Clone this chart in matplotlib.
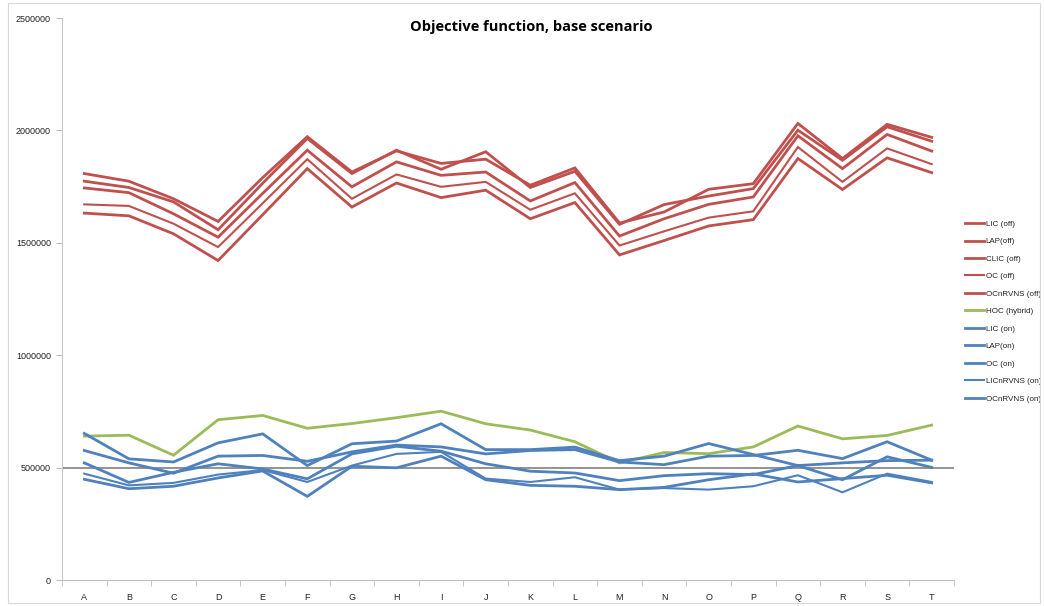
import matplotlib
matplotlib.use("Agg")
import matplotlib.pyplot as plt
from matplotlib.patches import Rectangle
from matplotlib.ticker import FixedLocator, FuncFormatter

categories = list("ABCDEFGHIJKLMNOPQRST")

# Objective values (thousands) per instance
lic_off = [1808, 1774, 1696, 1595, 1790, 1972, 1815, 1909, 1853, 1872, 1756, 1833, 1588, 1637, 1738, 1763, 2031, 1875, 2027, 1969]
lap_off = [1774, 1746, 1682, 1558, 1765, 1964, 1808, 1912, 1827, 1905, 1746, 1818, 1582, 1670, 1708, 1741, 2001, 1867, 2016, 1952]
clic_off = [1744, 1723, 1629, 1525, 1720, 1912, 1749, 1860, 1800, 1815, 1686, 1768, 1530, 1607, 1671, 1704, 1976, 1830, 1982, 1908]
oc_off = [1671, 1664, 1585, 1481, 1676, 1872, 1696, 1804, 1749, 1771, 1647, 1720, 1488, 1551, 1612, 1640, 1926, 1771, 1920, 1850]
ocnrvns_off = [1632, 1620, 1540, 1421, 1625, 1830, 1659, 1766, 1701, 1734, 1607, 1679, 1446, 1510, 1575, 1603, 1875, 1737, 1878, 1812]
hoc_hybrid = [640, 644, 555, 713, 732, 675, 696, 722, 751, 695, 667, 615, 521, 567, 562, 592, 685, 628, 643, 689]
lic_on = [652, 539, 525, 610, 650, 509, 606, 618, 695, 580, 580, 591, 531, 551, 607, 558, 509, 446, 548, 501]
lap_on = [576, 521, 475, 551, 554, 528, 570, 600, 592, 561, 576, 580, 525, 513, 551, 554, 577, 540, 615, 533]
oc_on = [521, 434, 479, 517, 494, 450, 561, 595, 573, 517, 484, 476, 442, 464, 473, 469, 509, 521, 531, 533]
licnrvns_on = [473, 421, 432, 469, 489, 436, 509, 561, 570, 451, 436, 457, 402, 409, 402, 417, 466, 390, 473, 436]
ocnrvns_on = [448, 406, 417, 454, 485, 372, 506, 499, 551, 446, 421, 417, 402, 412, 446, 472, 436, 451, 466, 432]

reference_level = 500000
y_ticks = [0, 500000, 1000000, 1500000, 2000000, 2500000]

RED = "#C0504D"
GREEN = "#9BBB59"
BLUE = "#4F81BD"

series = [
    ("LIC (off)", lic_off, RED, 2.0),
    ("LAP(off)", lap_off, RED, 2.0),
    ("CLIC (off)", clic_off, RED, 2.0),
    ("OC (off)", oc_off, RED, 1.5),
    ("OCnRVNS (off)", ocnrvns_off, RED, 2.0),
    ("HOC (hybrid)", hoc_hybrid, GREEN, 2.0),
    ("LIC (on)", lic_on, BLUE, 2.0),
    ("LAP(on)", lap_on, BLUE, 2.0),
    ("OC (on)", oc_on, BLUE, 2.0),
    ("LICnRVNS (on)", licnrvns_on, BLUE, 1.5),
    ("OCnRVNS (on)", ocnrvns_on, BLUE, 2.0),
]

W, H = 1044, 606
fig = plt.figure(figsize=(W / 100, H / 100), dpi=100)
fig.patch.set_facecolor("white")

# chart-area frame
fig.patches.append(Rectangle((8 / W, 3 / H), (W - 12) / W, (H - 6) / H,
                             transform=fig.transFigure, fill=False,
                             edgecolor="#D8D8D8", linewidth=0.8))

ax = fig.add_axes([62 / W, 1 - 580 / H, (954 - 62) / W, (580 - 18) / H])
x = list(range(len(categories)))

ax.axhline(reference_level, color="#808080", linewidth=1.2, zorder=1)

for name, vals, color, lw in series:
    ax.plot(x, [v * 1000 for v in vals], color=color, linewidth=lw,
            label=name, solid_joinstyle="miter", zorder=2)

ax.set_xlim(-0.5, len(categories) - 0.5)
ax.set_ylim(0, 2500000)

ax.set_xticks(x)
ax.set_xticklabels(categories)
ax.xaxis.set_minor_locator(FixedLocator([i - 0.5 for i in range(len(categories) + 1)]))
ax.tick_params(axis="x", which="major", length=0, pad=9, labelsize=6.5, labelcolor="#222222")
ax.tick_params(axis="x", which="minor", length=4, color="#BFBFBF", direction="out")

ax.set_yticks(y_ticks)
ax.yaxis.set_major_formatter(FuncFormatter(lambda v, p: f"{int(v)}"))
ax.tick_params(axis="y", length=4, color="#BFBFBF", pad=4, labelsize=6.5, labelcolor="#222222")

for s in ("top", "right"):
    ax.spines[s].set_visible(False)
ax.spines["left"].set_color("#C8C8C8")
ax.spines["bottom"].set_color("#BFBFBF")
for lab in ax.get_xticklabels() + ax.get_yticklabels():
    lab.set_fontfamily("Liberation Sans")

fig.text(531 / W, 1 - 27 / H, "Objective function, base scenario",
         ha="center", va="center", fontsize=10.5, fontweight="bold",
         family="Open Sans")

leg = ax.legend(loc="upper left", bbox_to_anchor=(962 / W, 1 - 217 / H),
                bbox_transform=fig.transFigure, frameon=False,
                prop={"family": "Liberation Sans", "size": 5.8},
                handlelength=2.3, handletextpad=0.25, labelspacing=1.22,
                borderaxespad=0)
for t in leg.get_texts():
    t.set_color("#222222")

fig.savefig("out.png", dpi=100)
